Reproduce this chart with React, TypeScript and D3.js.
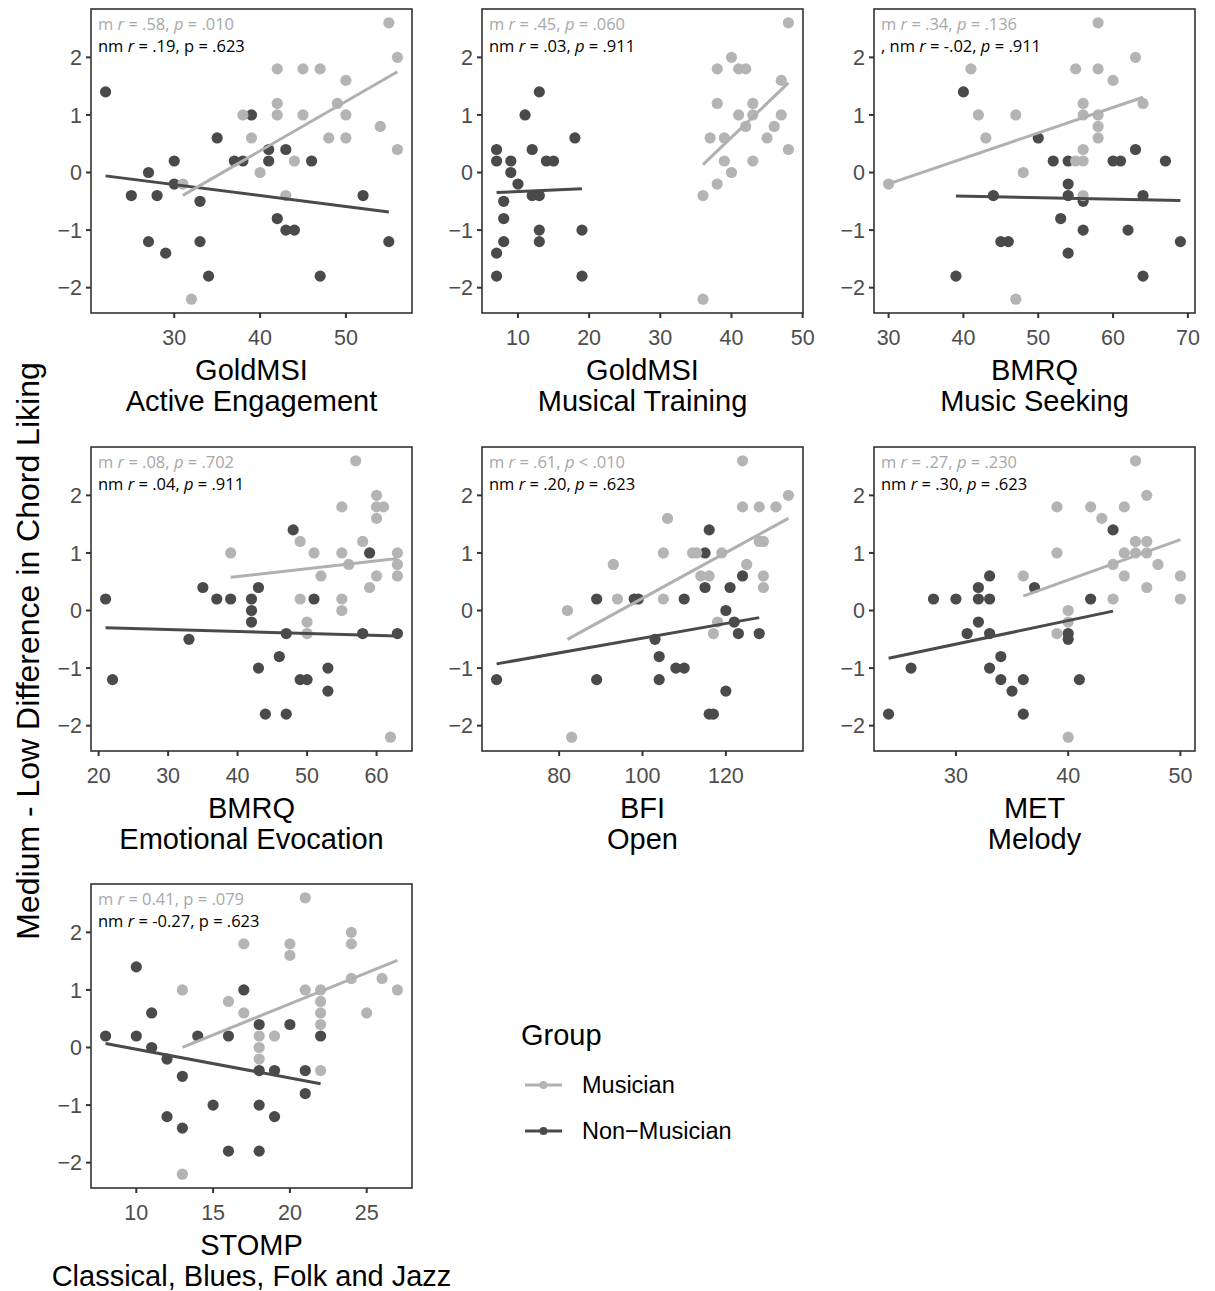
import React from "react";
import * as d3 from "d3";

type Pt = [number, number];

// ---------- data (x score, liking difference) ----------
const aeMusician: Pt[] = [[55,2.6],[56,2.0],[42,1.8],[45,1.8],[47,1.8],[50,1.6],[42,1.2],[49,1.2],[38,1.0],[42,1.0],[45,1.0],[50,1.0],[54,0.8],[39,0.6],[48,0.6],[50,0.6],[56,0.4],[44,0.2],[40,0],[31,-0.2],[43,-0.4],[32,-2.2]];
const aeNonMusician: Pt[] = [[22,1.4],[39,1.0],[35,0.6],[41,0.4],[43,0.4],[30,0.2],[37,0.2],[38,0.2],[41,0.2],[46,0.2],[27,0],[30,-0.2],[25,-0.4],[28,-0.4],[33,-0.5],[52,-0.4],[42,-0.8],[43,-1.0],[44,-1.0],[27,-1.2],[33,-1.2],[55,-1.2],[29,-1.4],[34,-1.8],[47,-1.8]];

const mtMusician: Pt[] = [[48,2.6],[40,2.0],[38,1.8],[41,1.8],[42,1.8],[47,1.6],[38,1.2],[43,1.2],[41,1.0],[43,1.0],[47,1.0],[42,0.8],[46,0.8],[37,0.6],[39,0.6],[45,0.6],[48,0.4],[39,0.2],[43,0.2],[40,0],[38,-0.2],[36,-0.4],[36,-2.2]];
const mtNonMusician: Pt[] = [[7,0.4],[7,0.2],[9,0.2],[9,0],[10,-0.2],[8,-0.5],[8,-0.8],[8,-1.2],[7,-1.4],[7,-1.8],[13,1.4],[11,1.0],[12,0.4],[14,0.2],[15,0.2],[18,0.6],[12,-0.4],[13,-0.4],[13,-1.0],[13,-1.2],[19,-1.0],[19,-1.8]];

const msMusician: Pt[] = [[58,2.6],[63,2.0],[41,1.8],[55,1.8],[58,1.8],[60,1.6],[56,1.2],[64,1.2],[42,1.0],[47,1.0],[56,1.0],[58,1.0],[58,0.8],[43,0.6],[58,0.6],[56,0.4],[55,0.2],[56,0.2],[48,0],[30,-0.2],[56,-0.4],[47,-2.2]];
const msNonMusician: Pt[] = [[40,1.4],[50,0.6],[63,0.4],[52,0.2],[54,0.2],[60,0.2],[61,0.2],[67,0.2],[54,-0.2],[44,-0.4],[54,-0.4],[56,-0.5],[64,-0.4],[53,-0.8],[56,-1.0],[62,-1.0],[45,-1.2],[46,-1.2],[69,-1.2],[54,-1.4],[39,-1.8],[64,-1.8]];

const eeMusician: Pt[] = [[57,2.6],[55,1.8],[60,2.0],[60,1.8],[61,1.8],[60,1.6],[49,1.2],[58,1.2],[39,1.0],[51,1.0],[55,1.0],[63,1.0],[56,0.8],[63,0.8],[52,0.6],[60,0.6],[63,0.6],[59,0.4],[49,0.2],[55,0.2],[55,0],[50,-0.2],[50,-0.4],[62,-2.2]];
const eeNonMusician: Pt[] = [[21,0.2],[22,-1.2],[33,-0.5],[35,0.4],[37,0.2],[39,0.2],[42,0.2],[42,0],[42,-0.2],[43,0.4],[43,-1.0],[48,1.4],[51,0.2],[59,1.0],[47,-0.4],[46,-0.8],[49,-1.2],[50,-1.2],[53,-1.0],[53,-1.4],[44,-1.8],[47,-1.8],[58,-0.4],[63,-0.4]];

const opMusician: Pt[] = [[124,2.6],[135,2.0],[124,1.8],[128,1.8],[132,1.8],[106,1.6],[128,1.2],[129,1.2],[105,1.0],[112,1.0],[113,1.0],[119,1.0],[93,0.8],[125,0.8],[114,0.6],[116,0.6],[129,0.6],[129,0.4],[94,0.2],[105,0.2],[82,0],[118,-0.2],[117,-0.4],[83,-2.2]];
const opNonMusician: Pt[] = [[65,-1.2],[89,0.2],[89,-1.2],[98,0.2],[99,0.2],[103,-0.5],[104,-0.8],[104,-1.2],[108,-1.0],[110,-1.0],[110,0.2],[116,1.4],[115,1.0],[115,0.4],[121,0.4],[124,0.6],[120,0],[122,-0.2],[123,-0.4],[128,-0.4],[120,-1.4],[116,-1.8],[117,-1.8]];

const meMusician: Pt[] = [[46,2.6],[47,2.0],[39,1.8],[42,1.8],[45,1.8],[43,1.6],[46,1.2],[47,1.2],[39,1.0],[45,1.0],[46,1.0],[47,1.0],[44,0.8],[48,0.8],[36,0.6],[45,0.6],[50,0.6],[47,0.4],[44,0.2],[50,0.2],[40,0],[40,-0.2],[39,-0.4],[40,-2.2]];
const meNonMusician: Pt[] = [[24,-1.8],[26,-1.0],[28,0.2],[30,0.2],[32,0.4],[32,0.2],[33,0.6],[33,0.2],[32,-0.2],[31,-0.4],[33,-0.4],[34,-0.8],[33,-1.0],[34,-1.2],[35,-1.4],[36,-1.2],[36,-1.8],[37,0.4],[40,-0.4],[40,-0.5],[41,-1.2],[42,0.2],[44,1.4]];

const stMusician: Pt[] = [[21,2.6],[24,2.0],[24,1.8],[17,1.8],[20,1.8],[20,1.6],[24,1.2],[26,1.2],[13,1.0],[21,1.0],[22,1.0],[27,1.0],[16,0.8],[22,0.8],[17,0.6],[22,0.6],[25,0.6],[22,0.4],[18,0.2],[19,0.2],[18,0],[18,-0.2],[22,-0.4],[13,-2.2]];
const stNonMusician: Pt[] = [[8,0.2],[10,1.4],[10,0.2],[11,0.6],[11,0],[12,-0.2],[12,-1.2],[13,-0.5],[13,-1.4],[14,0.2],[15,-1.0],[16,0.2],[16,-1.8],[17,1.0],[18,0.4],[18,-0.4],[18,-1.0],[18,-1.8],[19,-0.4],[19,-1.2],[20,0.4],[21,-0.4],[21,-0.8],[22,0.2]];

const titleLine1 = ["GoldMSI", "GoldMSI", "BMRQ", "BMRQ", "BFI", "MET", "STOMP"];
const titleLine2 = ["Active Engagement", "Musical Training", "Music Seeking", "Emotional Evocation", "Open", "Melody", "Classical, Blues, Folk and Jazz"];
const xTickValues = [[30, 40, 50], [10, 20, 30, 40, 50], [30, 40, 50, 60, 70], [20, 30, 40, 50, 60], [80, 100, 120], [30, 40, 50], [10, 15, 20, 25]];
const yTickValues = [-2, -1, 0, 1, 2];

// annotation pieces: r value, p relation text, whether p is italic
const mR = [".58", ".45", ".34", ".08", ".61", ".27", "0.41"];
const mP = ["= .010", "= .060", "= .136", "= .702", "< .010", "= .230", "= .079"];
const mPItalic = [true, true, true, true, true, true, false];
const nmPrefix = ["nm", "nm", ", nm", "nm", "nm", "nm", "nm"];
const nmR = [".19", ".03", "-.02", ".04", ".20", ".30", "-0.27"];
const nmP = ["= .623", "= .911", "= .911", "= .911", "= .623", "= .623", "= .623"];
const nmPItalic = [false, true, true, true, true, true, false];

const groupNames = ["Musician", "Non\u2212Musician"];
const yAxisTitle = "Medium - Low Difference in Chord Liking";

const musicianSets = [aeMusician, mtMusician, msMusician, eeMusician, opMusician, meMusician, stMusician];
const nonMusicianSets = [aeNonMusician, mtNonMusician, msNonMusician, eeNonMusician, opNonMusician, meNonMusician, stNonMusician];

// ---------- style ----------
const LIGHT = "#b4b4b4";
const DARK = "#4a4a4a";
const LIGHT_LINE = "#b0b0b0";
const DARK_LINE = "#4a4a4a";
const SANS = "'Liberation Sans', Arial, Helvetica, sans-serif";
const ANNOT = "'Open Sans', 'Noto Sans', sans-serif";

const colX = [91, 482, 874];
const rowY = [9, 447, 884];
const PW = 321;
const PH = 304;

function expand(ext: [number, number]): [number, number] {
  const pad = (ext[1] - ext[0]) * 0.05;
  return [ext[0] - pad, ext[1] + pad];
}

function fitLine(pts: Pt[]): Pt[] {
  const mx = d3.mean(pts, (d) => d[0]) as number;
  const my = d3.mean(pts, (d) => d[1]) as number;
  let sxy = 0;
  let sxx = 0;
  pts.forEach(([x, y]) => {
    sxy += (x - mx) * (y - my);
    sxx += (x - mx) * (x - mx);
  });
  const b = sxy / sxx;
  const a = my - b * mx;
  const [x0, x1] = d3.extent(pts, (d) => d[0]) as [number, number];
  return [[x0, a + b * x0], [x1, a + b * x1]];
}

const allY = musicianSets.concat(nonMusicianSets).flat().map((d) => d[1]);
const yDomain = expand(d3.extent(allY) as [number, number]);

function fmtTick(v: number) {
  return v < 0 ? "\u2212" + Math.abs(v) : String(v);
}

function Panel({ i }: { i: number }) {
  const x0 = colX[i % 3];
  const y0 = rowY[Math.floor(i / 3)];
  const mus = musicianSets[i];
  const non = nonMusicianSets[i];
  const xDomain = expand(d3.extent(mus.concat(non), (d) => d[0]) as [number, number]);
  const xs = d3.scaleLinear().domain(xDomain).range([x0, x0 + PW]);
  const ys = d3.scaleLinear().domain(yDomain).range([y0 + PH, y0]);
  const line = d3.line<Pt>().x((d) => xs(d[0])).y((d) => ys(d[1]));
  const bottom = y0 + PH;
  const cx = x0 + PW / 2;
  return (
    <g>
      {/* y ticks */}
      {yTickValues.map((v) => (
        <g key={"y" + v}>
          <line x1={x0 - 5} x2={x0} y1={ys(v)} y2={ys(v)} stroke="#333" strokeWidth={2} />
          <text x={x0 - 9} y={ys(v)} dy="0.36em" textAnchor="end" fontFamily={SANS} fontSize={21.5} fill="#4d4d4d">
            {fmtTick(v)}
          </text>
        </g>
      ))}
      {/* x ticks */}
      {xTickValues[i].map((v) => (
        <g key={"x" + v}>
          <line x1={xs(v)} x2={xs(v)} y1={bottom} y2={bottom + 5} stroke="#333" strokeWidth={2} />
          <text x={xs(v)} y={bottom + 32} textAnchor="middle" fontFamily={SANS} fontSize={21.5} fill="#4d4d4d">
            {v}
          </text>
        </g>
      ))}
      {/* points */}
      {non.map((d, k) => (
        <circle key={"n" + k} cx={xs(d[0])} cy={ys(d[1])} r={5.6} fill={DARK} />
      ))}
      {mus.map((d, k) => (
        <circle key={"m" + k} cx={xs(d[0])} cy={ys(d[1])} r={5.6} fill={LIGHT} />
      ))}
      {/* fitted lines */}
      <path d={line(fitLine(non)) || ""} stroke={DARK_LINE} strokeWidth={3} fill="none" />
      <path d={line(fitLine(mus)) || ""} stroke={LIGHT_LINE} strokeWidth={3} fill="none" />
      {/* annotations */}
      <text x={x0 + 7} y={y0 + 21} fontFamily={ANNOT} fontSize={16.5} fill="#a8a8a8">
        {"m "}
        <tspan fontStyle="italic">r</tspan>
        {" = " + mR[i] + ", "}
        <tspan fontStyle={mPItalic[i] ? "italic" : "normal"}>p</tspan>
        {" " + mP[i]}
      </text>
      <text x={x0 + 7} y={y0 + 43} fontFamily={ANNOT} fontSize={16.5} fill="#000">
        {nmPrefix[i] + " "}
        <tspan fontStyle="italic">r</tspan>
        {" = " + nmR[i] + ", "}
        <tspan fontStyle={nmPItalic[i] ? "italic" : "normal"}>p</tspan>
        {" " + nmP[i]}
      </text>
      {/* frame */}
      <rect x={x0} y={y0} width={PW} height={PH} fill="none" stroke="#333" strokeWidth={1.6} />
      {/* axis title */}
      <text x={cx} y={bottom + 67} textAnchor="middle" fontFamily={SANS} fontSize={29} fill="#000">
        {titleLine1[i]}
      </text>
      <text x={cx} y={bottom + 98} textAnchor="middle" fontFamily={SANS} fontSize={29} fill="#000">
        {titleLine2[i]}
      </text>
    </g>
  );
}

export default function App() {
  const legendColors = [LIGHT, DARK];
  const legendLines = [LIGHT_LINE, DARK_LINE];
  const legendY = [1085, 1131];
  return (
    <svg
      width={1215}
      height={1291}
      viewBox="0 0 1215 1291"
      style={{ position: "absolute", left: 0, top: 0, background: "#fff" }}
    >
      <rect x={0} y={0} width={1215} height={1291} fill="#fff" />
      {musicianSets.map((_, i) => (
        <Panel key={i} i={i} />
      ))}
      <text
        transform="translate(39,651) rotate(-90)"
        textAnchor="middle"
        fontFamily={SANS}
        fontSize={32}
        fill="#000"
      >
        {yAxisTitle}
      </text>
      <text x={521} y={1045} fontFamily={SANS} fontSize={29} fill="#000">
        Group
      </text>
      {groupNames.map((g, k) => (
        <g key={g}>
          <line x1={525} x2={562} y1={legendY[k]} y2={legendY[k]} stroke={legendLines[k]} strokeWidth={3} />
          <circle cx={543.5} cy={legendY[k]} r={4} fill={legendColors[k]} />
          <text x={582} y={legendY[k]} dy="0.36em" fontFamily={SANS} fontSize={23.5} fill="#000">
            {g}
          </text>
        </g>
      ))}
    </svg>
  );
}
